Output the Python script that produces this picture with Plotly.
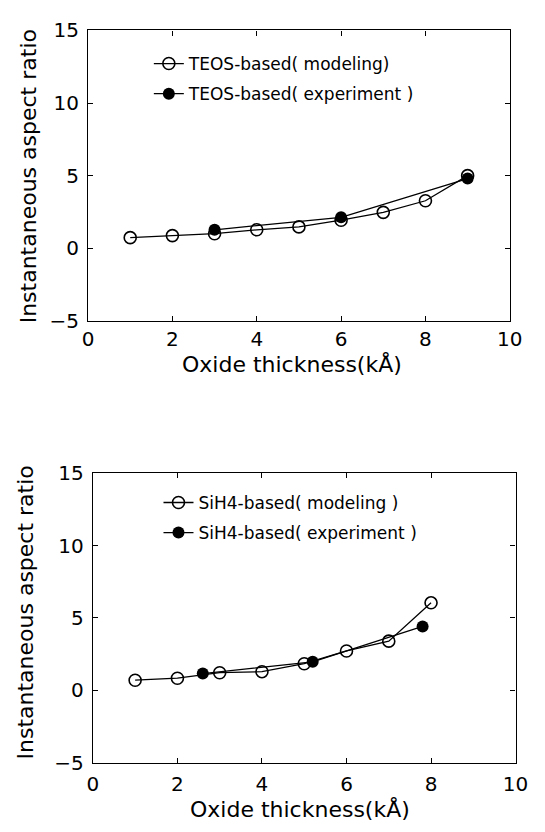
import plotly.graph_objects as go

# ---- data ----
teos_model_x = [1, 2, 3, 4, 5, 6, 7, 8, 9]
teos_model_y = [0.73, 0.87, 1.0, 1.27, 1.47, 1.93, 2.47, 3.27, 5.0]
teos_exp_x = [3, 6, 9]
teos_exp_y = [1.27, 2.13, 4.8]

sih4_model_x = [1, 2, 3, 4, 5, 6, 7, 8]
sih4_model_y = [0.7, 0.84, 1.22, 1.29, 1.84, 2.72, 3.4, 6.05]
sih4_exp_x = [2.6, 5.2, 7.8]
sih4_exp_y = [1.16, 1.97, 4.42]

x_ticks = [0, 2, 4, 6, 8, 10]
y_ticks = [-5, 0, 5, 10, 15]

legend_top = ["TEOS-based( modeling)", "TEOS-based( experiment )"]
legend_bot = ["SiH4-based( modeling )", "SiH4-based( experiment )"]
x_title = "Oxide thickness(kÅ)"
y_title = "Instantaneous aspect ratio"

FONT = "DejaVu Sans"
W, H = 545, 832

def fx(px):
    return px / W

def fy(py):
    return 1 - py / H

fig = go.Figure()

def add_pair(mx, my, ex, ey, names, xa, ya, leg):
    fig.add_trace(go.Scatter(
        x=mx, y=my, mode="lines+markers", name=names[0],
        xaxis=xa, yaxis=ya, legend=leg, legendgroup=leg + "a",
        line=dict(color="black", width=1.3),
        marker=dict(symbol="circle-open", size=12, color="black", line=dict(width=1.6)),
    ))
    fig.add_trace(go.Scatter(
        x=ex, y=ey, mode="lines+markers", name=names[1],
        xaxis=xa, yaxis=ya, legend=leg, legendgroup=leg + "b",
        line=dict(color="black", width=1.3),
        marker=dict(symbol="circle", size=12, color="black"),
    ))

add_pair(teos_model_x, teos_model_y, teos_exp_x, teos_exp_y, legend_top, "x", "y", "legend")
add_pair(sih4_model_x, sih4_model_y, sih4_exp_x, sih4_exp_y, legend_bot, "x2", "y2", "legend2")

axis_common = dict(
    showline=True, linecolor="black", linewidth=1.2, mirror="ticks",
    ticks="inside", ticklen=5, tickcolor="black", tickwidth=1,
    showgrid=False, zeroline=False,
    tickfont=dict(family=FONT, size=20, color="black"),
)

fig.update_layout(
    width=W, height=H,
    margin=dict(l=0, r=0, t=0, b=0),
    paper_bgcolor="white", plot_bgcolor="white",
    font=dict(family=FONT, color="black"),
    xaxis=dict(domain=[fx(85), fx(522)], range=[0, 10], tickvals=x_ticks, anchor="y",
               ticklabelstandoff=0, **axis_common),
    yaxis=dict(domain=[fy(318), fy(19)], range=[-5, 15], tickvals=y_ticks, anchor="x",
               ticklabelstandoff=4, **axis_common),
    xaxis2=dict(domain=[fx(90), fx(528)], range=[0, 10], tickvals=x_ticks, anchor="y2",
                ticklabelstandoff=3, **axis_common),
    yaxis2=dict(domain=[fy(773), fy(475)], range=[-5, 15], tickvals=y_ticks, anchor="x2",
                ticklabelstandoff=4, **axis_common),
    legend=dict(x=fx(148), y=fy(35), xanchor="left", yanchor="top",
                bgcolor="rgba(0,0,0,0)", font=dict(family=FONT, size=17),
                traceorder="grouped", tracegroupgap=5),
    legend2=dict(x=fx(158), y=fy(487), xanchor="left", yanchor="top",
                 bgcolor="rgba(0,0,0,0)", font=dict(family=FONT, size=17),
                 traceorder="grouped", tracegroupgap=5),
    showlegend=True,
)

for cx, cy in [(296, 362), (305, 821)]:
    fig.add_annotation(x=fx(cx), y=fy(cy), xref="paper", yref="paper",
                       xanchor="center", yanchor="middle",
                       text=x_title, showarrow=False,
                       font=dict(family=FONT, size=22, color="black"))
for cx, cy in [(23, 169), (20, 618)]:
    fig.add_annotation(x=fx(cx), y=fy(cy), xref="paper", yref="paper",
                       xanchor="center", yanchor="middle",
                       text=y_title, showarrow=False, textangle=-90,
                       font=dict(family=FONT, size=22, color="black"))

fig.write_html("out.html")
